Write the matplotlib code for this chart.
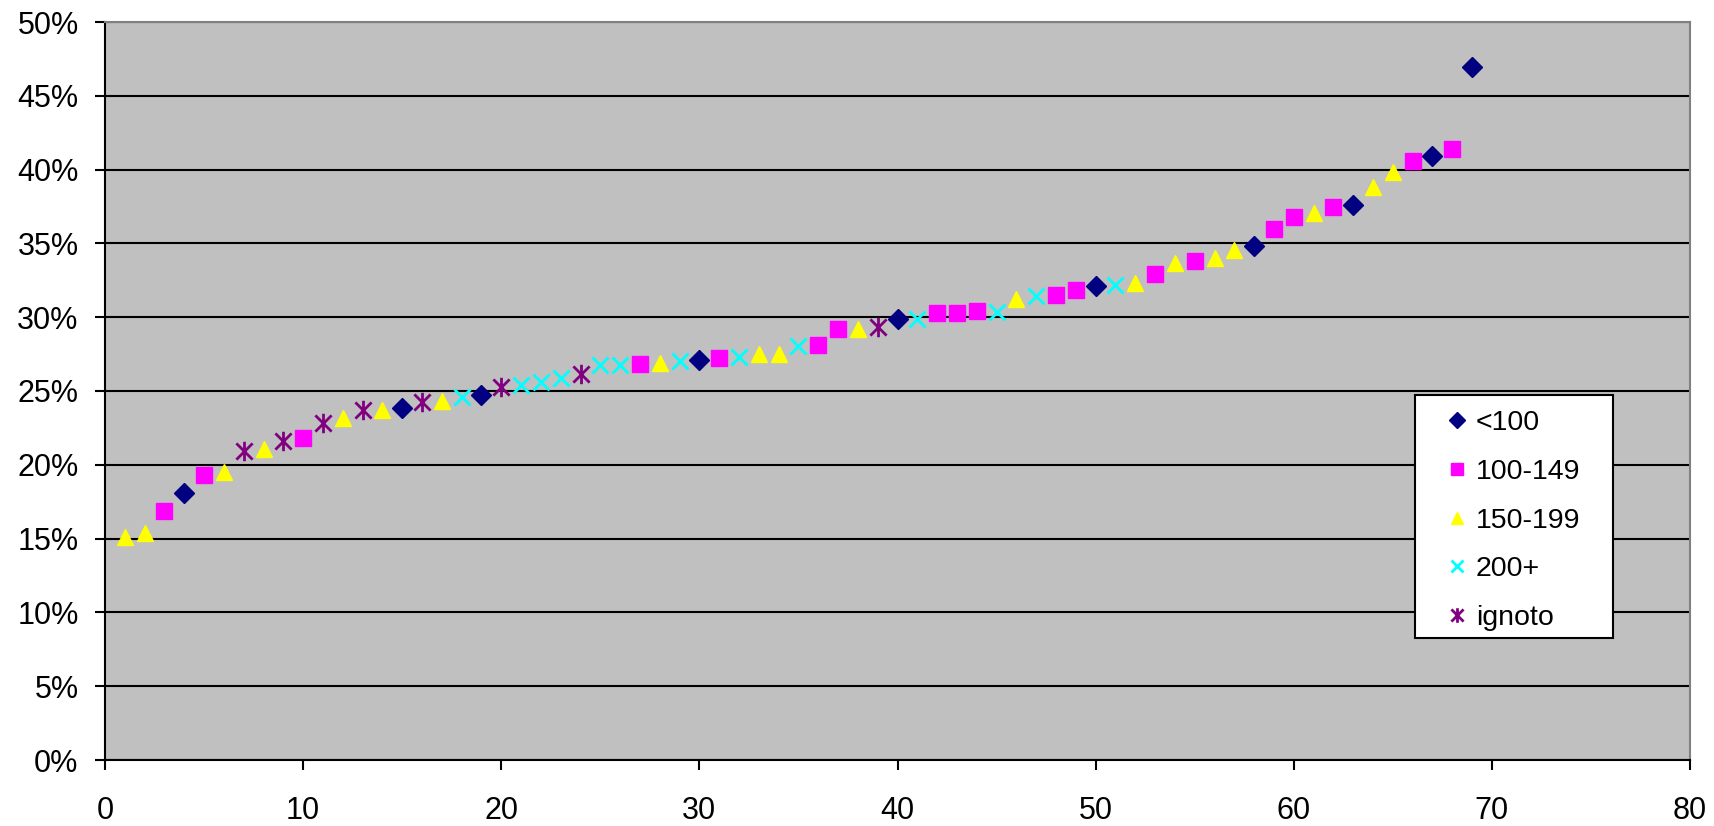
import matplotlib
matplotlib.use('Agg')
import matplotlib.pyplot as plt
from matplotlib.path import Path
from matplotlib.patches import Rectangle
from matplotlib.ticker import FuncFormatter

plt.rcParams['font.family'] = ['Liberation Sans', 'DejaVu Sans']

# data: rank position (x) and percentage (y) per class
x_lt100 = [4, 15, 19, 30, 40, 50, 58, 63, 67, 69]
y_lt100 = [18.1, 23.85, 24.7, 27.1, 29.9, 32.1, 34.8, 37.6, 40.94, 46.97]

x_100_149 = [3, 5, 10, 27, 31, 36, 37, 42, 43, 44, 48, 49, 53, 55, 59, 60, 62, 66, 68]
y_100_149 = [16.9, 19.3, 21.8, 26.8, 27.26, 28.1, 29.2, 30.3, 30.3, 30.44, 31.5, 31.84,
             32.9, 33.8, 36.0, 36.8, 37.5, 40.6, 41.4]

x_150_199 = [1, 2, 6, 8, 12, 14, 17, 28, 33, 34, 38, 46, 52, 54, 56, 57, 61, 64, 65]
y_150_199 = [15.1, 15.4, 19.5, 21.1, 23.2, 23.7, 24.3, 26.9, 27.5, 27.5, 29.2, 31.23,
             32.3, 33.7, 34.0, 34.55, 37.05, 38.8, 39.86]

x_200 = [18, 21, 22, 23, 25, 26, 29, 32, 35, 41, 45, 47, 51]
y_200 = [24.6, 25.4, 25.6, 25.9, 26.75, 26.75, 27.0, 27.3, 28.05, 29.85, 30.37, 31.46, 32.2]

x_ignoto = [7, 9, 11, 13, 16, 20, 24, 39]
y_ignoto = [20.96, 21.6, 22.8, 23.7, 24.25, 25.3, 26.15, 29.36]

labels = ['<100', '100-149', '150-199', '200+', 'ignoto']

# Excel-like asterisk: an x with a vertical bar
star = Path([(-1, -1), (1, 1), (-1, 1), (1, -1), (0, -1.2), (0, 1.2)],
            [Path.MOVETO, Path.LINETO, Path.MOVETO, Path.LINETO, Path.MOVETO, Path.LINETO])

W, H = 1714, 826
fig = plt.figure(figsize=(W / 100, H / 100), dpi=100)
ax = fig.add_axes([105 / W, 66 / H, 1585 / W, 738 / H])
ax.set_facecolor('#C0C0C0')

ax.plot(x_lt100, y_lt100, 'D', color='#000080', ms=10.5, ls='none', label=labels[0], zorder=3)
ax.plot(x_100_149, y_100_149, 's', color='#FF00FF', ms=11, ls='none', label=labels[1], zorder=3)
ax.plot(x_150_199, y_150_199, '^', color='#FFFF00', ms=12, ls='none', label=labels[2], zorder=3)
ax.plot(x_200, y_200, 'x', color='#00FFFF', ms=11, mew=2, ls='none', label=labels[3], zorder=3)
ax.plot(x_ignoto, y_ignoto, marker=star, color='#800080', ms=14, mew=2, ls='none',
        label=labels[4], zorder=3)

ax.set_xlim(0, 80)
ax.set_ylim(0, 50)
ax.set_xticks(range(0, 81, 10))
ax.set_yticks(range(0, 51, 5))
ax.yaxis.set_major_formatter(FuncFormatter(lambda v, p: '%d%%' % v))
ax.yaxis.grid(True, color='black', lw=1.5, zorder=1)
ax.set_axisbelow(True)

for s in ['left', 'bottom']:
    ax.spines[s].set_color('black')
    ax.spines[s].set_linewidth(1.5)
for s in ['top', 'right']:
    ax.spines[s].set_color('#808080')
    ax.spines[s].set_linewidth(1.5)

ax.tick_params(axis='both', direction='out', length=7, width=1.5, labelsize=22, colors='black')
ax.tick_params(axis='x', pad=19)
ax.tick_params(axis='y', pad=12)

# legend box drawn separately so its padding can match the original
box = Rectangle((1415 / W, 1 - 638 / H), 198 / W, 243 / H, transform=fig.transFigure,
                facecolor='white', edgecolor='black', lw=1.5, clip_on=False, zorder=4)
ax.add_patch(box)

leg = ax.legend(loc='upper left', bbox_to_anchor=(1446 / W, 1 - 410 / H),
                bbox_transform=fig.transFigure, fontsize=20.5, frameon=False,
                markerscale=0.75, handlelength=0.8, handletextpad=0.25,
                labelspacing=0.8, borderpad=0, borderaxespad=0)
leg.set_zorder(5)

fig.savefig('out.png', dpi=100)
